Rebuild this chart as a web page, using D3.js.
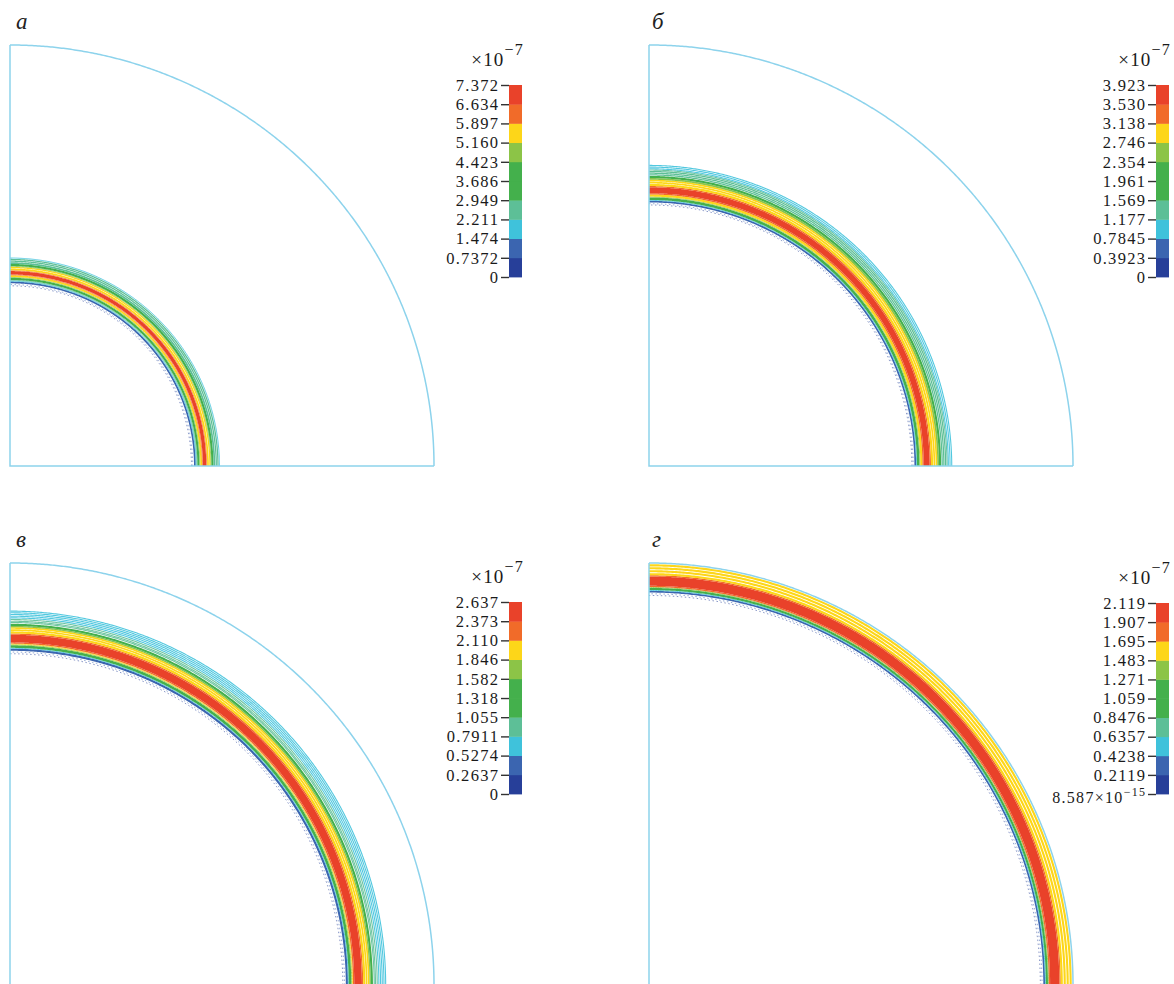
<!DOCTYPE html>
<html>
<head>
<meta charset="utf-8">
<script src="https://cdn.jsdelivr.net/npm/d3@7"></script>
<style>
  html, body { margin: 0; padding: 0; background: #fff; }
  svg { display: block; }
</style>
</head>
<body>
<script>
// ---------- DATA ----------
// colour of each contour level (bottom of the colour bar -> top)
const levelColors = ["#273f99", "#3b65b0", "#3fc2db", "#5dbf97", "#44b04c",
                     "#44b04c", "#8cc447", "#fdd619", "#f16b29", "#e9422a"];

// filled contour bands: [inner radius, outer radius, level]; radius as fraction of domain radius
const bandsA = [[0.434,0.438,1],[0.438,0.440,2],[0.440,0.442,3],[0.442,0.447,4],[0.447,0.449,6],
  [0.449,0.453,7],[0.453,0.455,8],[0.455,0.463,9],[0.463,0.465,8],[0.465,0.469,7],[0.470,0.473,7],
  [0.473,0.475,6],[0.475,0.480,4],[0.480,0.484,3],[0.485,0.488,3],[0.489,0.492,3],[0.493,0.495,2]];
const linesA = [[0.428,0],[0.431,1]];

const bandsB = [[0.626,0.630,1],[0.630,0.632,2],[0.632,0.638,4],[0.638,0.640,6],[0.640,0.645,7],
  [0.645,0.648,8],[0.648,0.662,9],[0.662,0.665,8],[0.665,0.670,7],[0.671,0.675,7],[0.676,0.680,7],
  [0.680,0.684,6],[0.684,0.689,4],[0.690,0.693,3],[0.694,0.697,3],[0.698,0.701,3]];
const linesB = [[0.620,0],[0.623,1],[0.703,3],[0.706,2],[0.710,2],[0.714,2]];

const bandsC = [[0.792,0.797,1],[0.797,0.799,2],[0.799,0.805,4],[0.805,0.807,6],[0.807,0.809,7],
  [0.809,0.812,8],[0.812,0.830,9],[0.830,0.833,8],[0.833,0.838,7],[0.839,0.843,7],[0.844,0.848,7],
  [0.848,0.851,6],[0.851,0.856,4]];
const linesC = [[0.785,0],[0.789,1],[0.859,3],[0.862,3],[0.866,3],[0.870,2],[0.874,2],
  [0.878,2],[0.882,2],[0.886,2]];

const bandsD = [[0.930,0.934,1],[0.934,0.936,2],[0.936,0.941,4],[0.941,0.943,6],[0.943,0.946,8],
  [0.946,0.968,9],[0.968,0.971,8],[0.971,0.976,7],[0.978,0.983,7],[0.985,0.990,7],[0.992,0.997,7]];
const linesD = [[0.923,0],[0.927,1]];

// colour-bar tick values (units of 1e-7) and their labels
const ticksA = [0, 0.7372, 1.474, 2.211, 2.949, 3.686, 4.423, 5.160, 5.897, 6.634, 7.372];
const labelsA = ["0","0.7372","1.474","2.211","2.949","3.686","4.423","5.160","5.897","6.634","7.372"];
const ticksB = [0, 0.3923, 0.7845, 1.177, 1.569, 1.961, 2.354, 2.746, 3.138, 3.530, 3.923];
const labelsB = ["0","0.3923","0.7845","1.177","1.569","1.961","2.354","2.746","3.138","3.530","3.923"];
const ticksC = [0, 0.2637, 0.5274, 0.7911, 1.055, 1.318, 1.582, 1.846, 2.110, 2.373, 2.637];
const labelsC = ["0","0.2637","0.5274","0.7911","1.055","1.318","1.582","1.846","2.110","2.373","2.637"];
const ticksD = [8.587e-8, 0.2119, 0.4238, 0.6357, 0.8476, 1.059, 1.271, 1.483, 1.695, 1.907, 2.119];
const labelsD = ["8.587×10|−15","0.2119","0.4238","0.6357","0.8476","1.059","1.271","1.483","1.695","1.907","2.119"];

const panelLetters = ["а", "б", "в", "г"];

// ---------- LAYOUT ----------
const W = 1174, H = 984;
const panels = [
  {x0: 10,  y0: 466, rx: 424, ry: 421, bands: bandsA, lines: linesA, ticks: ticksA, labels: labelsA, barX: 509, barTop: 85,  barBot: 277, lx: 16,  ly: 29},
  {x0: 649, y0: 466, rx: 424, ry: 421, bands: bandsB, lines: linesB, ticks: ticksB, labels: labelsB, barX: 1156, barTop: 85, barBot: 277, lx: 652, ly: 29},
  {x0: 10,  y0: 985, rx: 424, ry: 422, bands: bandsC, lines: linesC, ticks: ticksC, labels: labelsC, barX: 509, barTop: 602, barBot: 794, lx: 16,  ly: 547},
  {x0: 649, y0: 985, rx: 424, ry: 422, bands: bandsD, lines: linesD, ticks: ticksD, labels: labelsD, barX: 1156, barTop: 603, barBot: 794, lx: 652, ly: 547}
];
const barW = 13;
const edgeColor = "#8dd3ec";
const serif = "'Liberation Serif', 'DejaVu Serif', serif";

const svg = d3.select("body").append("svg").attr("width", W).attr("height", H);
svg.append("defs").append("clipPath").attr("id", "pageclip")
  .append("rect").attr("width", W).attr("height", H);

const angles = d3.range(0, 90.25, 0.25).map(a => a * Math.PI / 180);

panels.forEach((p, pi) => {
  const xs = d3.scaleLinear().domain([0, 1]).range([p.x0, p.x0 + p.rx]);
  const ys = d3.scaleLinear().domain([0, 1]).range([p.y0, p.y0 - p.ry]);
  const arcLine = r => d3.line()(angles.map(t => [xs(r * Math.cos(t)), ys(r * Math.sin(t))]));
  const g = svg.append("g").attr("clip-path", "url(#pageclip)");

  // filled bands
  g.selectAll("path.band").data(p.bands).join("path")
    .attr("class", "band")
    .attr("d", d => arcLine((d[0] + d[1]) / 2))
    .attr("fill", "none")
    .attr("stroke", d => levelColors[d[2]])
    .attr("stroke-width", d => xs(d[1]) - xs(d[0]));

  // individual contour lines
  g.selectAll("path.cline").data(p.lines).join("path")
    .attr("class", "cline")
    .attr("d", d => arcLine(d[0]))
    .attr("fill", "none")
    .attr("stroke", d => levelColors[d[1]])
    .attr("stroke-width", d => d[1] <= 1 ? 1 : 1.1)
    .attr("stroke-dasharray", d => d[1] <= 1 ? "1.5,2.5" : null)
    .attr("opacity", d => d[1] <= 1 ? 0.55 : 0.9);

  // domain boundary
  g.append("path").attr("d", arcLine(1))
    .attr("fill", "none").attr("stroke", edgeColor).attr("stroke-width", 1.5);
  g.append("path")
    .attr("d", `M${xs(0)},${ys(1)}L${xs(0)},${ys(0)}L${xs(1)},${ys(0)}`)
    .attr("fill", "none").attr("stroke", edgeColor).attr("stroke-width", 1.5);

  // panel letter
  svg.append("text").attr("x", p.lx).attr("y", p.ly)
    .attr("font-family", serif).attr("font-style", "italic")
    .attr("font-size", 23).attr("fill", "#222").text(panelLetters[pi]);

  // colour bar
  const cs = d3.scaleLinear().domain([p.ticks[0], p.ticks[p.ticks.length - 1]]).range([p.barBot, p.barTop]);
  const bar = svg.append("g");
  bar.selectAll("rect").data(d3.range(p.ticks.length - 1)).join("rect")
    .attr("x", p.barX).attr("width", barW)
    .attr("y", i => cs(p.ticks[i + 1]))
    .attr("height", i => cs(p.ticks[i]) - cs(p.ticks[i + 1]) + 0.4)
    .attr("fill", i => levelColors[i]);

  const axis = d3.axisLeft(cs).tickValues(p.ticks)
    .tickFormat((d, i) => p.labels[i]).tickSize(8).tickPadding(3);
  const ag = svg.append("g").attr("transform", `translate(${p.barX},0)`).call(axis);
  ag.select(".domain").remove();
  ag.selectAll(".tick line").attr("stroke", "#333").attr("stroke-width", 1.4);
  ag.selectAll(".tick text")
    .attr("font-family", serif).attr("font-size", 16.5).attr("fill", "#1a1a1a")
    .attr("letter-spacing", "1.3px").attr("dx", "1.3px")
    .each(function (d, i) {
      const lab = p.labels[i];
      if (lab.includes("|")) {
        const [base, sup] = lab.split("|");
        const t = d3.select(this).text(base).attr("y", 3).attr("font-size", 16);
        t.append("tspan").attr("dy", -7).attr("font-size", 12).text(sup);
      }
    });

  // multiplier header ×10^-7
  const hdr = svg.append("text")
    .attr("x", p.barX + barW + 2).attr("y", p.barTop - 19)
    .attr("text-anchor", "end")
    .attr("font-family", serif).attr("font-size", 19).attr("fill", "#1a1a1a")
    .attr("letter-spacing", "1.2px");
  hdr.append("tspan").text("×10");
  hdr.append("tspan").attr("dy", -11).attr("font-size", 16).text("−7");
});
</script>
</body>
</html>
